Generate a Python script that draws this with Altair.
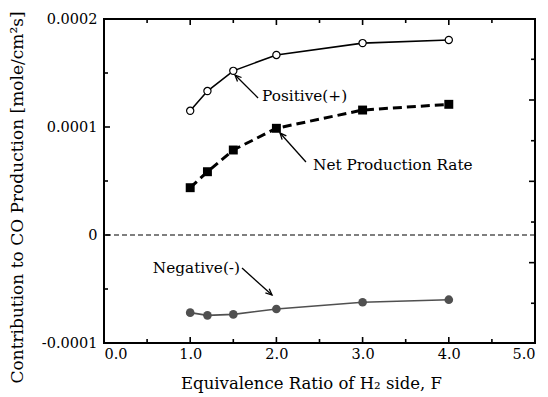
import math
import altair as alt
import pandas as pd

# ---------------- data ----------------
phi = [1.0, 1.2, 1.5, 2.0, 3.0, 4.0]
positive = [1.150e-4, 1.333e-4, 1.520e-4, 1.667e-4, 1.777e-4, 1.806e-4]
net = [0.438e-4, 0.586e-4, 0.787e-4, 0.988e-4, 1.157e-4, 1.210e-4]
negative = [-0.719e-4, -0.744e-4, -0.735e-4, -0.685e-4, -0.623e-4, -0.599e-4]

x_major_vals = [0.0, 1.0, 2.0, 3.0, 4.0, 5.0]
x_minor_vals = [0.5, 1.5, 2.5, 3.5, 4.5]
y_major_vals = [-1e-4, 0.0, 1e-4, 2e-4]
y_minor_vals = [-0.5e-4, 0.5e-4, 1.5e-4]
y_right_major_vals = [1.250e-4, 0.497e-4, -0.256e-4]
y_right_minor_vals = [1.627e-4, 0.873e-4, 0.120e-4, -0.632e-4]

ann_text = ["Positive(+)", "Net Production Rate", "Negative(-)"]
ann_x = [1.833, 2.425, 1.578]
ann_y = [1.287e-4, 0.648e-4, -0.306e-4]
ann_align = ["left", "left", "right"]
arrow_x0 = [1.787, 2.343, 1.601]
arrow_y0 = [1.269e-4, 0.676e-4, -0.306e-4]
arrow_x1 = [1.520, 2.042, 1.949]
arrow_y1 = [1.481e-4, 0.944e-4, -0.556e-4]

x_title = "Equivalence Ratio of H\u2082 side, F"
y_title = "Contribution to CO  Production [mole/cm\u00b2s]"

# ---------------- layout ----------------
W, H = 431, 324
XD = [0.0, 5.0]
YD = [-1e-4, 2e-4]
FONT = "DejaVu Serif"

xs = alt.Scale(domain=XD, nice=False, zero=False)
ys = alt.Scale(domain=YD, nice=False, zero=False)

px_per_x = W / (XD[1] - XD[0])
px_per_y = H / (YD[1] - YD[0])

pos_df = pd.DataFrame({"x": phi, "y": positive})
net_df = pd.DataFrame({"x": phi, "y": net})
neg_df = pd.DataFrame({"x": phi, "y": negative})
zero_df = pd.DataFrame({"y": [0.0]})
ann_df = pd.DataFrame({"x": ann_x, "y": ann_y, "t": ann_text, "a": ann_align})
angles = []
for a0, b0, a1, b1 in zip(arrow_x0, arrow_y0, arrow_x1, arrow_y1):
    dx = (a1 - a0) * px_per_x
    dy = -(b1 - b0) * px_per_y
    angles.append(math.degrees(math.atan2(dy, dx)) % 360)
arr_df = pd.DataFrame({"x": arrow_x0, "y": arrow_y0, "x2": arrow_x1, "y2": arrow_y1, "ang": angles})

# inward frame ticks as short rules (lengths in pixels converted to data units)
MAJ, MIN = 6, 4
rows = []
for vals, ln in ((x_major_vals, MAJ), (x_minor_vals, MIN)):
    for v in vals:
        rows.append((v, v, YD[0], YD[0] + ln / px_per_y))
        rows.append((v, v, YD[1] - ln / px_per_y, YD[1]))
for vals, ln in ((y_major_vals, MAJ), (y_minor_vals, MIN)):
    for v in vals:
        rows.append((XD[0], XD[0] + ln / px_per_x, v, v))
for vals, ln in ((y_right_major_vals, MAJ), (y_right_minor_vals, MIN)):
    for v in vals:
        rows.append((XD[1] - ln / px_per_x, XD[1], v, v))
tick_df = pd.DataFrame(rows, columns=["x", "x2", "y", "y2"])

y_label_expr = ("datum.value == 0 ? '0' : (datum.value < 0 ? '-' : '') + "
                "format(abs(datum.value), '.4f')")

ax_bottom_labels = alt.Axis(orient="bottom", values=x_major_vals, format=".1f", ticks=False,
                            domain=False, grid=False, labelPadding=4, title=x_title,
                            titleX=207, titleY=40, titleBaseline="middle", titleAlign="center")
ax_left_labels = alt.Axis(orient="left", values=y_major_vals, labelExpr=y_label_expr,
                          ticks=False, domain=False, grid=False, labelPadding=7,
                          title=y_title, titleX=-87, titleY=178, titleAngle=270,
                          titleAlign="center", titleBaseline="middle", titleFontSize=17)

pos_line = alt.Chart(pos_df).mark_line(color="black", strokeWidth=1.6).encode(
    x=alt.X("x:Q", scale=xs, axis=ax_bottom_labels),
    y=alt.Y("y:Q", scale=ys, axis=ax_left_labels),
)
ticks = alt.Chart(tick_df).mark_rule(color="black", strokeWidth=1.6).encode(
    x=alt.X("x:Q", scale=xs, axis=None),
    x2="x2:Q",
    y=alt.Y("y:Q", scale=ys, axis=None),
    y2="y2:Q",
)
pos_pts = alt.Chart(pos_df).mark_point(shape="circle", filled=True, fill="white", stroke="black",
                                       strokeWidth=1.2, size=52, opacity=1).encode(
    x=alt.X("x:Q", scale=xs, axis=None),
    y=alt.Y("y:Q", scale=ys, axis=None),
)
net_line = alt.Chart(net_df).mark_line(color="black", strokeWidth=3, strokeDash=[9, 5]).encode(
    x=alt.X("x:Q", scale=xs, axis=None),
    y=alt.Y("y:Q", scale=ys, axis=None),
)
net_pts = alt.Chart(net_df).mark_point(shape="square", filled=True, color="black", size=80,
                                       opacity=1).encode(
    x=alt.X("x:Q", scale=xs, axis=None),
    y=alt.Y("y:Q", scale=ys, axis=None),
)
neg_line = alt.Chart(neg_df).mark_line(color="#505050", strokeWidth=1.6).encode(
    x=alt.X("x:Q", scale=xs, axis=None),
    y=alt.Y("y:Q", scale=ys, axis=None),
)
neg_pts = alt.Chart(neg_df).mark_point(shape="circle", filled=True, color="#505050", size=75,
                                       opacity=1).encode(
    x=alt.X("x:Q", scale=xs, axis=None),
    y=alt.Y("y:Q", scale=ys, axis=None),
)
zero_rule = alt.Chart(zero_df).mark_rule(color="black", strokeWidth=1.2, strokeDash=[5, 3]).encode(
    y=alt.Y("y:Q", scale=ys, axis=None),
)
ann_left = alt.Chart(ann_df).transform_filter(alt.datum.a == "left").mark_text(
    font=FONT, fontSize=15.3, color="black", baseline="middle", align="left").encode(
    x=alt.X("x:Q", scale=xs, axis=None),
    y=alt.Y("y:Q", scale=ys, axis=None),
    text="t:N",
)
ann_right = alt.Chart(ann_df).transform_filter(alt.datum.a == "right").mark_text(
    font=FONT, fontSize=15.3, color="black", baseline="middle", align="right").encode(
    x=alt.X("x:Q", scale=xs, axis=None),
    y=alt.Y("y:Q", scale=ys, axis=None),
    text="t:N",
)
arrow_shaft = alt.Chart(arr_df).mark_rule(color="black", strokeWidth=1.3).encode(
    x=alt.X("x:Q", scale=xs, axis=None),
    y=alt.Y("y:Q", scale=ys, axis=None),
    x2="x2:Q",
    y2="y2:Q",
)
arrow_head = alt.Chart(arr_df).mark_point(shape="M-1,-0.45L0,0L-1,0.45", filled=False,
                                          stroke="black", strokeWidth=1.3, size=160,
                                          opacity=1).encode(
    x=alt.X("x2:Q", scale=xs, axis=None),
    y=alt.Y("y2:Q", scale=ys, axis=None),
    angle=alt.Angle("ang:Q", scale=None),
)

chart = alt.layer(
    pos_line, zero_rule, ticks, pos_pts, net_line, net_pts, neg_line, neg_pts,
    arrow_shaft, arrow_head, ann_left, ann_right,
).resolve_axis(x="independent", y="independent").properties(
    width=W, height=H,
    autosize=alt.AutoSizeParams(type="none"),
    padding={"left": 104, "top": 19, "right": 13, "bottom": 54},
    background="white",
).configure_view(
    stroke="black", strokeWidth=2,
).configure_axis(
    labelFont=FONT, labelFontSize=14.5, labelColor="black",
    titleFont=FONT, titleFontSize=16.5, titleFontWeight="normal", titleColor="black",
)

chart.save("out.html", embed_options={"renderer": "svg", "actions": False})
